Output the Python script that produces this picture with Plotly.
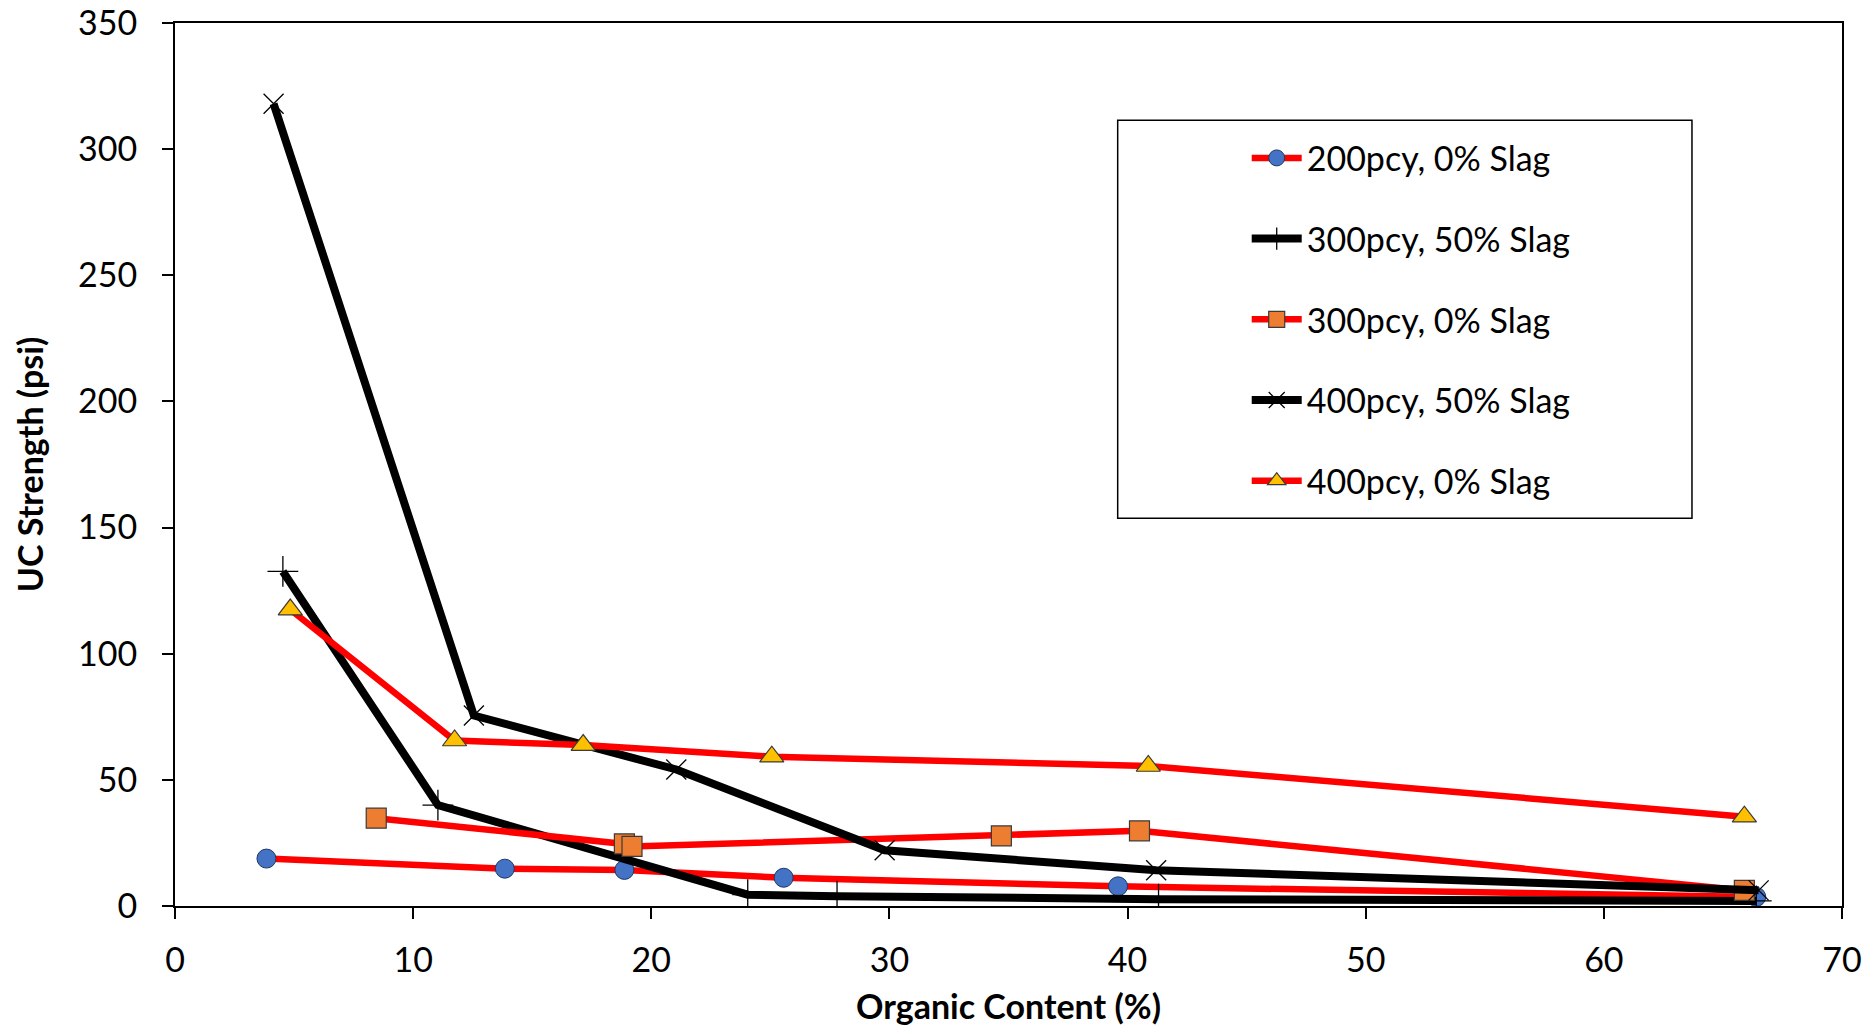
import plotly.graph_objects as go

# ---- data ----
names = ["200pcy, 0% Slag", "300pcy, 50% Slag", "300pcy, 0% Slag",
         "400pcy, 50% Slag", "400pcy, 0% Slag"]

x_200_0 = [3.84, 13.85, 18.87, 25.56, 39.6, 66.4]
y_200_0 = [18.8, 14.8, 14.3, 11.2, 7.8, 3.6]

x_300_50 = [4.53, 11.04, 24.05, 27.8, 41.3, 66.4]
y_300_50 = [132.6, 40.0, 4.5, 3.9, 2.7, 2.0]

x_300_0 = [8.45, 18.87, 19.19, 34.7, 40.5, 65.9]
y_300_0 = [34.8, 24.6, 23.6, 27.8, 29.8, 6.2]

x_400_50 = [4.14, 12.55, 21.05, 29.8, 41.2, 66.5]
y_400_50 = [318.0, 75.5, 54.1, 22.1, 14.2, 6.2]

x_400_0 = [4.84, 11.74, 17.14, 25.06, 40.87, 65.9]
y_400_0 = [117.5, 65.6, 63.8, 59.2, 55.5, 35.4]

x_ticks = [0, 10, 20, 30, 40, 50, 60, 70]
y_ticks = [0, 50, 100, 150, 200, 250, 300, 350]

FONT = "Lato"

series = [
    (x_200_0, y_200_0, dict(color="#FF0000", width=6.5),
     dict(symbol="circle", size=19, color="#4472C4", line=dict(color="#1F3864", width=1))),
    (x_300_50, y_300_50, dict(color="#000000", width=8),
     dict(symbol="cross-thin", size=22, color="#000000", line=dict(color="#000000", width=1.3))),
    (x_300_0, y_300_0, dict(color="#FF0000", width=6.5),
     dict(symbol="square", size=20, color="#ED7D31", line=dict(color="#3A3A3A", width=1.2))),
    (x_400_50, y_400_50, dict(color="#000000", width=8),
     dict(symbol="x-thin", size=20, color="#000000", line=dict(color="#000000", width=1.3))),
    (x_400_0, y_400_0, dict(color="#FF0000", width=6.5),
     dict(symbol="triangle-up", size=21, color="#FFC000", line=dict(color="#3A3A3A", width=1.2))),
]

fig = go.Figure()
for i, (xs, ys, ln, mk) in enumerate(series):
    fig.add_trace(go.Scatter(x=xs, y=ys, mode="lines+markers", name=names[i],
                             line=ln, marker=mk, legendgroup=f"g{i}"))

axis_common = dict(showgrid=False, zeroline=False, showline=True, linecolor="black",
                   linewidth=2, mirror=True, ticks="outside", ticklen=11, tickwidth=2,
                   tickcolor="black", tickfont=dict(family=FONT, size=34, color="black"))

fig.update_xaxes(range=[0, 70], tickvals=x_ticks, ticklabelstandoff=12,
                 title=dict(text="<b>Organic Content (%)</b>", standoff=19,
                            font=dict(family=FONT, size=34, color="black")),
                 **axis_common)
fig.update_yaxes(range=[0, 350], tickvals=y_ticks, ticklabelstandoff=18,
                 title=dict(text="<b>UC Strength (psi)</b>", standoff=24,
                            font=dict(family=FONT, size=34, color="black")),
                 **axis_common)

# legend frame
fig.add_shape(type="rect", xref="paper", yref="paper", x0=0.5655, x1=0.910,
              y0=0.4392, y1=0.8898, line=dict(color="black", width=1.5),
              fillcolor="white", layer="below")

fig.update_layout(
    width=1864, height=1026,
    margin=dict(l=175, r=22, t=23, b=120, autoexpand=False),
    paper_bgcolor="white", plot_bgcolor="white",
    font=dict(family=FONT, color="black"),
    showlegend=True,
    legend=dict(x=0.6429, y=0.8796, xanchor="left", yanchor="top",
                bgcolor="rgba(0,0,0,0)", borderwidth=0,
                font=dict(family=FONT, size=34, color="black"),
                tracegroupgap=33.5, itemwidth=50),
)

fig.write_html("out.html")
